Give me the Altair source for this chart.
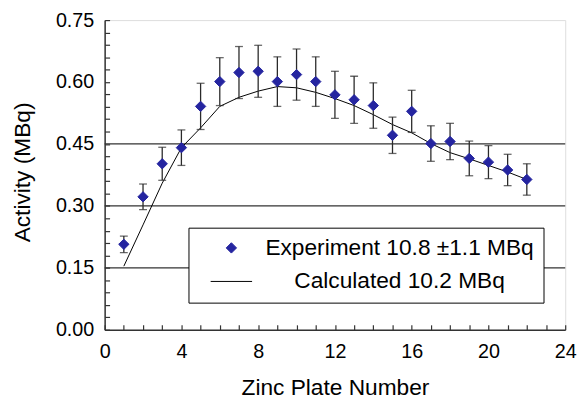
import altair as alt
import pandas as pd

# ---- data ----
plate = list(range(1, 23))
exp_activity = [0.207, 0.322, 0.402, 0.441, 0.541, 0.601, 0.623, 0.626, 0.601, 0.618, 0.601,
                0.569, 0.557, 0.543, 0.471, 0.529, 0.451, 0.456, 0.415, 0.406, 0.387, 0.364]
exp_error = [0.020, 0.031, 0.040, 0.043, 0.056, 0.058, 0.063, 0.063, 0.060, 0.062, 0.060,
             0.057, 0.057, 0.055, 0.044, 0.051, 0.043, 0.044, 0.042, 0.040, 0.038, 0.038]
calc_activity = [0.154, 0.254, 0.355, 0.441, 0.489, 0.541, 0.563, 0.578, 0.589, 0.586, 0.575,
                 0.560, 0.543, 0.521, 0.497, 0.477, 0.451, 0.429, 0.414, 0.398, 0.382, 0.364]
grid_levels = [0.15, 0.30, 0.45]
x_tick_values = [0, 4, 8, 12, 16, 20, 24]
y_tick_values = [0.0, 0.15, 0.30, 0.45, 0.60, 0.75]
x_minor_values = list(range(0, 25))
y_minor_values = [round(i * 0.03, 2) for i in range(26)]

EXP = "Experiment 10.8 ±1.1 MBq"
CALC = "Calculated 10.2 MBq"
series_names = [EXP, CALC]
BLUE = "#2525a0"
FONT = "Liberation Sans"

exp_df = pd.DataFrame({
    "plate": plate,
    "activity": exp_activity,
    "lo": [a - e for a, e in zip(exp_activity, exp_error)],
    "hi": [a + e for a, e in zip(exp_activity, exp_error)],
    "series": EXP,
})
calc_df = pd.DataFrame({"plate": plate, "activity": calc_activity, "series": CALC})
grid_df = pd.DataFrame({"level": grid_levels})

xscale = alt.Scale(domain=[0, 24], nice=False, zero=False)
yscale = alt.Scale(domain=[0, 0.75], nice=False, zero=False)
color_scale = alt.Scale(domain=series_names, range=[BLUE, "black"])
shape_scale = alt.Scale(domain=series_names, range=["diamond", "stroke"])
size_scale = alt.Scale(domain=series_names, range=[110, 1764])

legend = alt.Legend(
    title=None, orient="none", legendX=85, legendY=210.5,
    fillColor="white", strokeColor="black", cornerRadius=0,
    padding=9, rowPadding=-12, symbolOffset=13,
    symbolFillColor=BLUE, symbolStrokeWidth=1,
    labelAlign="center", labelOffset=149, labelLimit=500,
    labelFont=FONT, labelFontSize=23, labelColor="black",
)

main_x_axis = alt.Axis(
    orient="bottom", values=x_tick_values, ticks=False, tickSize=0, labelPadding=12,
    labelFont=FONT, labelFontSize=20, labelColor="black", labelFlush=False, labelOverlap=False,
    title="Zinc Plate Number", titleFont=FONT, titleFontSize=23, titleFontWeight="normal",
    titleColor="black", titleBaseline="alphabetic", titleY=65.5,
    domainColor="#333333", domainWidth=1.5, grid=False, zindex=1,
)
main_y_axis = alt.Axis(
    orient="left", values=y_tick_values, format=".2f", ticks=False, tickSize=0, labelPadding=11,
    labelFont=FONT, labelFontSize=20, labelColor="black", labelFlush=False, labelOverlap=False,
    title="Activity (MBq)", titleFont=FONT, titleFontSize=23, titleFontWeight="normal",
    titleColor="black", titleBaseline="alphabetic", titleX=-76, titleY=154,
    domainColor="#333333", domainWidth=1.5, grid=False, zindex=1,
)
minor_x_axis = alt.Axis(
    orient="bottom", values=x_minor_values, tickSize=5, offset=-5, tickColor="#333333",
    tickWidth=1.2, labels=False, domain=False, grid=False, title=None, zindex=1,
)
minor_y_axis = alt.Axis(
    orient="left", values=y_minor_values, tickSize=5, offset=-5, tickColor="#333333",
    tickWidth=1.2, labels=False, domain=False, grid=False, title=None, zindex=1,
)

rules = alt.Chart(grid_df).mark_rule(color="#333333", strokeWidth=1.2).encode(
    y=alt.Y("level:Q", scale=yscale, axis=None)
)

line = alt.Chart(calc_df).mark_line(strokeWidth=1).encode(
    x=alt.X("plate:Q", scale=xscale, axis=minor_x_axis),
    y=alt.Y("activity:Q", scale=yscale, axis=minor_y_axis),
    color=alt.Color("series:N", scale=color_scale, legend=legend),
)

errbars = alt.Chart(exp_df).mark_errorbar(
    ticks={"size": 8}, color="#2a2a2a", thickness=1.3
).encode(
    x=alt.X("plate:Q", scale=xscale, axis=None),
    y=alt.Y("lo:Q", scale=yscale, axis=None),
    y2="hi:Q",
)

points = alt.Chart(exp_df).mark_point(
    filled=False, fill=BLUE, fillOpacity=1, strokeWidth=1, opacity=1
).encode(
    x=alt.X("plate:Q", scale=xscale, axis=main_x_axis),
    y=alt.Y("activity:Q", scale=yscale, axis=main_y_axis),
    color=alt.Color("series:N", scale=color_scale, legend=legend),
    shape=alt.Shape("series:N", scale=shape_scale, legend=legend),
    size=alt.Size("series:N", scale=size_scale, legend=legend),
)

chart = alt.layer(rules, line, errbars, points).resolve_axis(
    x="independent", y="independent"
).properties(
    width=467, height=314,
    autosize=alt.AutoSizeParams(type="none"),
    padding={"left": 98, "top": 9.5, "right": 15, "bottom": 72},
).configure_view(stroke="#c4c4c4", strokeWidth=1.5).configure(background="white")

chart.save("out.html", embed_options={"renderer": "svg", "actions": False})
